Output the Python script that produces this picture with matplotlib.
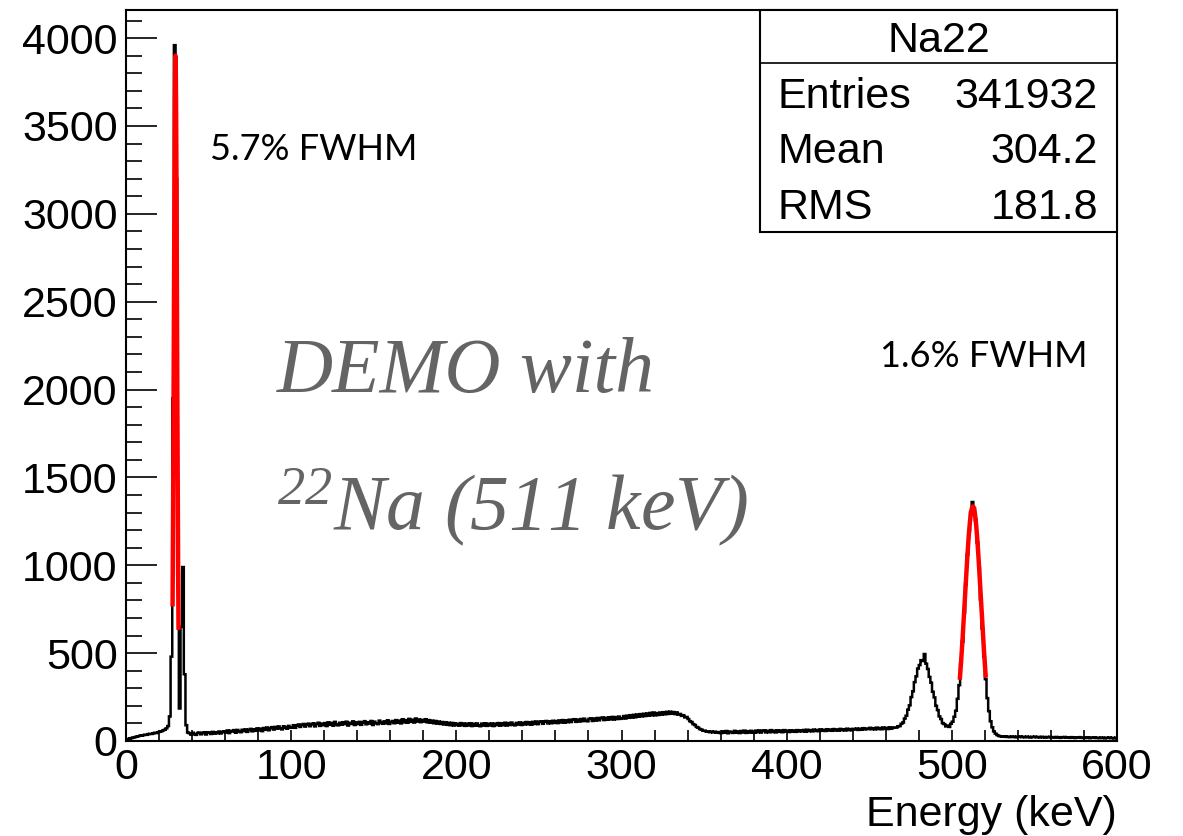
import numpy as np
import matplotlib
matplotlib.use("Agg")
import matplotlib.pyplot as plt
from matplotlib.patches import Rectangle
from matplotlib.ticker import MultipleLocator

# ---------------- data ----------------
e_min, e_max, n_bins = 0.0, 600.0, 600   # keV, 1 keV bins

counts = [
    # 0-26 keV
    8, 12, 14, 17, 20, 22, 25, 27, 30, 31, 33, 36, 35, 39, 41, 40, 44, 47, 45, 50,
    53, 55, 60, 64, 72, 85, 140,
    # 27-37 keV (low energy peaks)
    480, 1950, 3960, 3200, 950, 185, 650, 990, 380, 90, 48,
    # 38-59
    44, 36, 47, 39, 35, 46, 48, 38, 45, 50, 37, 47, 49, 40, 52, 42, 50, 44, 54, 43, 51, 55,
    # 60-99
    48, 60, 45, 58, 54, 62, 47, 63, 55, 50, 64, 56, 66, 52, 63, 69, 55, 67, 58, 72,
    60, 70, 56, 74, 64, 77, 61, 73, 79, 65, 80, 70, 83, 72, 66, 84, 76, 70, 86, 75,
    # 100-139
    76, 90, 75, 87, 94, 80, 91, 97, 82, 92, 99, 84, 95, 101, 83, 96, 104, 86, 99, 90,
    102, 85, 106, 92, 103, 87, 109, 95, 89, 104, 93, 107, 96, 110, 88, 104, 97, 112, 91, 106,
    # 140-179
    96, 109, 92, 105, 113, 95, 107, 99, 114, 91, 110, 101, 96, 116, 103, 98, 112, 100, 118, 97,
    108, 114, 101, 119, 104, 116, 100, 124, 106, 119, 104, 126, 109, 121, 105, 128, 111, 123, 107, 120,
    # 180-219
    110, 124, 106, 119, 104, 116, 101, 114, 99, 111, 97, 108, 94, 107, 92, 104, 90, 103, 88, 101,
    92, 87, 102, 89, 100, 86, 99, 88, 101, 85, 98, 87, 100, 89, 84, 99, 88, 101, 86, 98,
    # 220-259
    88, 100, 85, 99, 90, 102, 87, 101, 90, 104, 88, 102, 91, 105, 92, 89, 103, 93, 106, 91,
    104, 94, 108, 95, 107, 93, 109, 97, 111, 96, 108, 112, 98, 110, 114, 100, 112, 101, 115, 103,
    # 260-299
    114, 102, 117, 105, 119, 104, 118, 107, 121, 108, 120, 124, 109, 122, 111, 125, 113, 127, 115, 112,
    126, 129, 114, 128, 116, 131, 118, 130, 134, 119, 132, 121, 135, 123, 137, 122, 136, 125, 139, 126,
    # 300-319
    130, 142, 128, 144, 132, 147, 133, 149, 135, 151, 138, 153, 140, 155, 142, 157, 144, 160, 146, 162,
    # 320-339
    146, 159, 148, 162, 150, 164, 152, 166, 154, 167, 155, 165, 153, 163, 150, 154, 143, 147, 134, 137,
    # 340-359 (Compton edge)
    125, 113, 108, 96, 91, 80, 76, 68, 65, 58, 59, 53, 55, 50, 54, 49, 53, 47, 51, 46,
    # 360-399
    45, 55, 47, 57, 44, 54, 50, 46, 58, 47, 55, 45, 57, 48, 59, 46, 56, 48, 58, 49,
    47, 59, 50, 60, 48, 57, 61, 49, 58, 50, 62, 51, 59, 49, 61, 52, 60, 50, 62, 53,
    # 400-439
    59, 51, 61, 53, 60, 52, 62, 54, 61, 55, 63, 53, 64, 56, 62, 55, 65, 57, 63, 56,
    66, 58, 64, 57, 67, 59, 65, 58, 68, 60, 66, 59, 69, 61, 67, 60, 70, 62, 68, 61,
    # 440-464
    69, 65, 71, 63, 70, 64, 73, 66, 71, 68, 75, 67, 73, 66, 76, 68, 74, 67, 77, 69,
    75, 68, 78, 70, 76,
    # 465-499 (peak near 482 keV)
    77, 76, 84, 85, 98, 105, 128, 144, 178, 203, 250, 283, 335, 368, 412, 432, 460, 455, 495, 440,
    410, 365, 332, 280, 248, 200, 176, 140, 125, 102, 96, 83, 88, 80, 98,
    # 500-529 (511 keV peak)
    110, 138, 172, 240, 318, 435, 565, 730, 890, 1060, 1195, 1300, 1360, 1325, 1258, 1130, 982, 805, 640, 480,
    352, 244, 170, 112, 78, 55, 42, 34, 29, 27,
    # 530-599
    26, 24, 27, 23, 25, 22, 26, 24, 21, 25, 23, 26, 22, 24, 21, 25, 23, 20, 24, 22,
    25, 21, 23, 20, 24, 22, 19, 23, 21, 24, 20, 22, 19, 23, 21, 18, 22, 20, 23, 19,
    21, 18, 22, 20, 17, 21, 19, 22, 18, 20, 17, 21, 19, 16, 20, 18, 21, 17, 19, 16,
    20, 18, 15, 19, 17, 20, 16, 18, 15, 19,
]
assert len(counts) == n_bins

# Gaussian fit results (amplitude, mean, sigma, fit range)
fit1_amp, fit1_mean, fit1_sigma, fit1_range = 3900.0, 29.95, 0.97, (28.2, 31.8)
fit2_amp, fit2_mean, fit2_sigma, fit2_range = 1335.0, 512.75, 4.85, (504.8, 520.6)

hist_name = "Na22"
stat_labels = ["Entries", "Mean", "RMS"]
stat_values = ["341932", "304.2", "181.8"]

xticks_major = [0, 100, 200, 300, 400, 500, 600]
yticks_major = [0, 500, 1000, 1500, 2000, 2500, 3000, 3500, 4000]
y_max = 4160

fwhm_label_1 = "5.7% FWHM"
fwhm_label_2 = "1.6% FWHM"
demo_line_1 = "DEMO with"
demo_line_2 = r"$^{22}$Na (511 keV)"
x_title = "Energy (keV)"

# ---------------- style ----------------
plt.rcParams["font.family"] = ["Liberation Sans", "DejaVu Sans"]
plt.rcParams["mathtext.fontset"] = "custom"
plt.rcParams["mathtext.rm"] = "Liberation Serif:italic"
plt.rcParams["mathtext.it"] = "Liberation Serif:italic"

fig = plt.figure(figsize=(11.83, 8.36), dpi=100)
ax = fig.add_axes([126 / 1183, 1 - 741 / 836, (1117 - 126) / 1183, (741 - 10) / 836])

edges = np.linspace(e_min, e_max, n_bins + 1)
ax.stairs(counts, edges, color="black", linewidth=1.8, zorder=3)


def gauss(x, a, m, s):
    return a * np.exp(-0.5 * ((x - m) / s) ** 2)


for a, m, s, (lo, hi) in [(fit1_amp, fit1_mean, fit1_sigma, fit1_range),
                          (fit2_amp, fit2_mean, fit2_sigma, fit2_range)]:
    xx = np.linspace(lo, hi, 300)
    ax.plot(xx, gauss(xx, a, m, s), color="red", linewidth=3.2, zorder=4,
            solid_capstyle="butt")

ax.set_xlim(e_min, e_max)
ax.set_ylim(0, y_max)
ax.set_xticks(xticks_major)
ax.set_yticks(yticks_major)
ax.xaxis.set_minor_locator(MultipleLocator(20))
ax.yaxis.set_minor_locator(MultipleLocator(100))
ax.tick_params(axis="both", which="both", direction="in", labelsize=31, width=1.2,
               top=False, right=False)
ax.tick_params(axis="x", which="major", length=8, pad=5)
ax.tick_params(axis="x", which="minor", length=8)
ax.tick_params(axis="y", which="major", length=22, pad=6)
ax.tick_params(axis="y", which="minor", length=11.5)
for sp in ax.spines.values():
    sp.set_linewidth(1.5)

ax.set_xlabel(x_title, fontsize=31, loc="right")
ax.xaxis.set_label_coords(1.0, -0.116)
ax.xaxis.label.set_va("baseline")

# annotations
ax.text(50.8, 3309, fwhm_label_1, fontsize=26, family=["Lato", "DejaVu Sans"],
        ha="left", va="baseline", zorder=5)
ax.text(456.4, 2130, fwhm_label_2, fontsize=26, family=["Lato", "DejaVu Sans"],
        ha="left", va="baseline", zorder=5)
ax.text(91.4, 1988, demo_line_1, fontsize=56, family=["Liberation Serif", "DejaVu Serif"],
        style="italic", color="#646464", ha="left", va="baseline", zorder=5)
ax.text(91.4, 1202, demo_line_2, fontsize=56, family=["Liberation Serif", "DejaVu Serif"],
        style="italic", color="#646464", ha="left", va="baseline", zorder=5)

# stats box
bx0, by0, bx1, by1, bdiv = 0.6398, 0.6963, 1.0, 1.0, 0.9275
ax.add_patch(Rectangle((bx0, by0), bx1 - bx0, by1 - by0, transform=ax.transAxes,
                       facecolor="white", edgecolor="black", linewidth=1.5, zorder=6,
                       clip_on=False))
ax.plot([bx0, bx1], [bdiv, bdiv], transform=ax.transAxes, color="black",
        linewidth=1.2, zorder=7, clip_on=False)
ax.text((bx0 + bx1) / 2, 0.9425, hist_name, transform=ax.transAxes, fontsize=31,
        ha="center", va="baseline", zorder=8)
for lab, val, yb in zip(stat_labels, stat_values, [0.866, 0.7907, 0.7141]):
    ax.text(0.6574, yb, lab, transform=ax.transAxes, fontsize=31,
            ha="left", va="baseline", zorder=8)
    ax.text(0.9808, yb, val, transform=ax.transAxes, fontsize=31,
            ha="right", va="baseline", zorder=8)

fig.savefig("out.png", dpi=100, facecolor="white")
